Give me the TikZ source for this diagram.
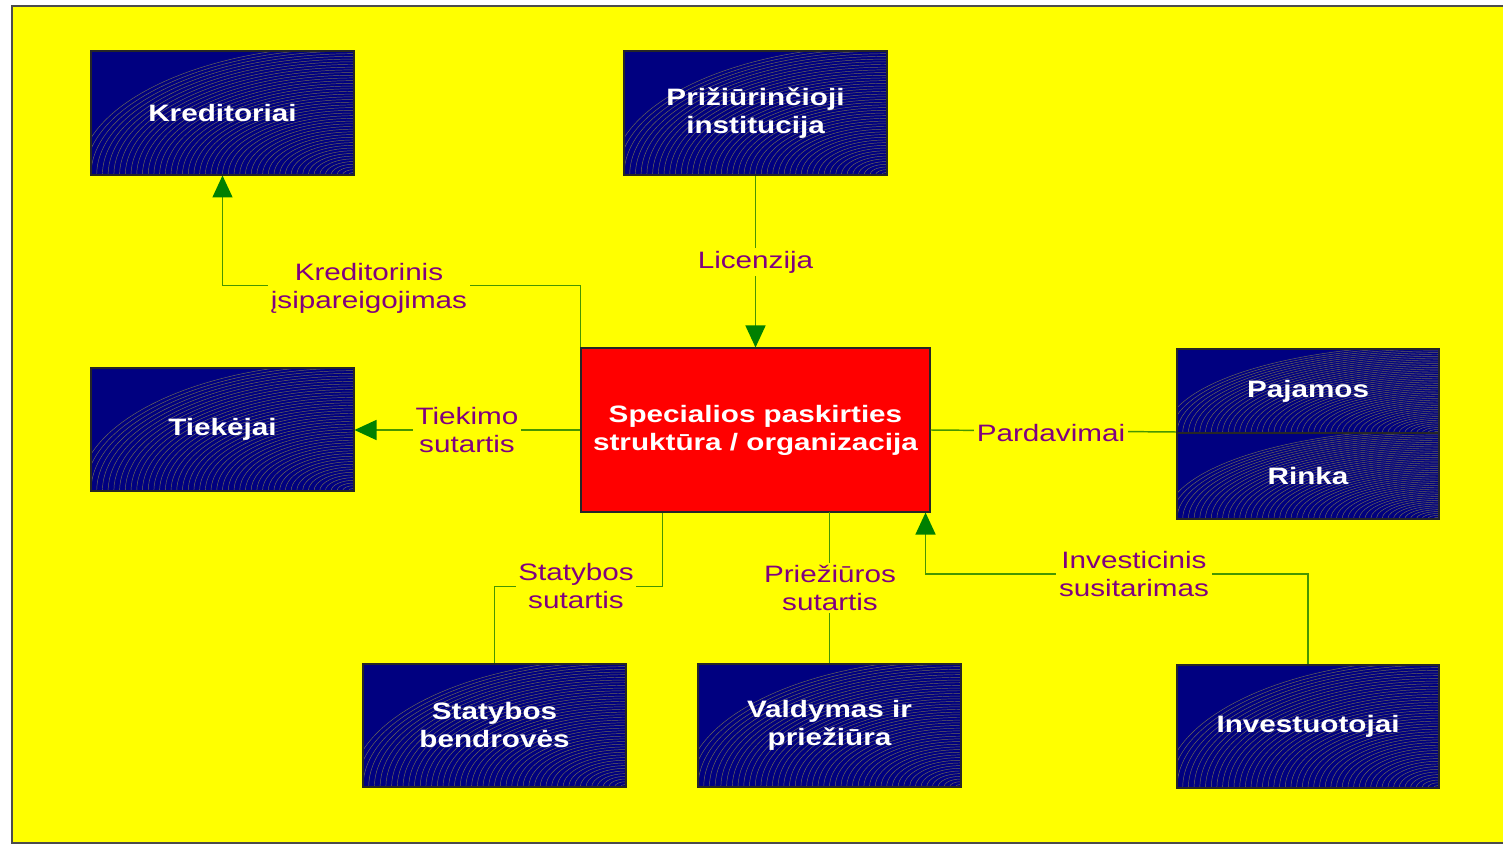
\documentclass[tikz,border=0pt]{standalone}
\usepackage{fontspec}
\setmainfont[FakeStretch=1.25]{Liberation Sans}
\usetikzlibrary{arrows.meta,calc}
\definecolor{bgyellow}{RGB}{255,255,0}
\definecolor{boxnavy}{RGB}{0,0,128}
\definecolor{lblpurple}{RGB}{128,0,128}
\definecolor{lngreen}{RGB}{70,150,0}
\definecolor{arrgreen}{RGB}{0,128,0}
\definecolor{patc}{RGB}{135,130,80}
\tikzset{
  navybox/.style={draw=black!85, line width=0.8pt, text=white, font=\bfseries\fontsize{17.8}{21}\selectfont, align=center, inner sep=0pt},
  corebox/.style={draw=black!85, line width=0.8pt, fill=red, text=white, font=\bfseries\fontsize{17.8}{21}\selectfont, align=center, inner sep=0pt},
  pat/.style={draw=patc, line width=0.35pt, opacity=0.8},
  conn/.style={draw=lngreen, line width=1.1pt},
  arr/.style={-{Triangle[width=15pt,length=16.5pt,color=arrgreen]}},
  lbl/.style={fill=bgyellow, text=lblpurple, font=\fontsize{17.8}{21}\selectfont, align=center, inner sep=2pt}
}
% name, cx, cy, w, h, text
\newcommand\patbox[6]{%
  \fill[boxnavy] ({#2-#4/2},{#3-#5/2}) rectangle ({#2+#4/2},{#3+#5/2});
  \begin{scope}
    \clip ({#2-#4/2},{#3-#5/2}) rectangle ({#2+#4/2},{#3+#5/2});
    \foreach \k in {1,...,48}
      \draw[pat] ({#2+#4/2},{#3+#5/2}) ellipse [x radius={#4*\k/46}, y radius={#5*\k/46}];
  \end{scope}
  \node[navybox, minimum width=#4*0.75pt, minimum height=#5*0.75pt] (#1) at (#2,#3) {#6};
}
\begin{document}
\begin{tikzpicture}[x=0.75pt,y=-0.75pt]
\useasboundingbox (0,0) rectangle (1503,845);
\fill[white] (0,0) rectangle (1503,845);
\draw[fill=bgyellow, draw=black!70, line width=1pt] (12,6) rectangle (1506,843);

% central box
\node[corebox, minimum width=349*0.75pt, minimum height=164*0.75pt] (ctr) at (755.5,430) {Specialios paskirties\\struktūra / organizacija};

% connectors (drawn before the navy boxes)
\draw[conn,arr] (ctr.north west) -- ++(0,-62) -| (222.5,175.5);
\draw[conn,arr] (755.5,175.5) -- (ctr.north);
\draw[conn,arr] (ctr.west) -- (354.5,430);
\draw[conn] (ctr.east) -- (1177,432);
\draw[conn] ($(ctr.south west)+(82,0)$) -- ++(0,74) -| (494.5,664);
\draw[conn] (829.5,664) -- (829.5,512);
\draw[conn,arr] (1308,665) -- ++(0,-91) -| ($(ctr.south east)+(-5,0)$);

\patbox{kred}{222.5}{113}{263}{124}{Kreditoriai}
\patbox{priz}{755.5}{113}{263}{124}{Prižiūrinčioji\\institucija}
\patbox{tiek}{222.5}{429.5}{263}{123}{Tiekėjai}
\patbox{paj}{1308}{391}{262}{84}{Pajamos}
\patbox{rink}{1308}{476}{262}{86}{Rinka}
\patbox{stat}{494.5}{725.5}{263}{123}{Statybos\\bendrovės}
\patbox{vald}{829.5}{725.5}{263}{123}{Valdymas ir\\priežiūra}
\patbox{inv}{1308}{726.5}{262}{123}{Investuotojai}

% labels
\node[lbl] (lkred) at (369,288) {Kreditorinis\\įsipareigojimas};
\node[lbl] (llic) at (755.5,262) {Licenzija};
\node[lbl] (ltiek) at (467,430) {Tiekimo\\sutartis};
\node[lbl] (lpard) at (1051,433) {Pardavimai};
\node[lbl] (lstat) at (576,586) {Statybos\\sutartis};
\node[lbl] (lpriez) at (830,588) {Priežiūros\\sutartis};
\node[lbl] (linv) at (1134,574) {Investicinis\\susitarimas};
\end{tikzpicture}
\end{document}
